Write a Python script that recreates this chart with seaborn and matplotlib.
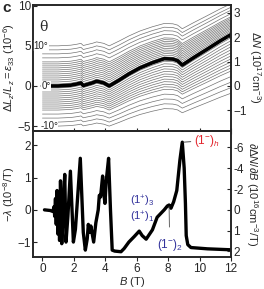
import numpy as np
import pandas as pd
import matplotlib
matplotlib.use('Agg')
import matplotlib.pyplot as plt
import seaborn as sns

# --- data ---
# 0 deg magnetostriction curve (epsilon_33, 1e-6) vs B (T)
b_main = [0.0, 1.0, 1.8, 2.2, 2.45, 2.6, 2.85, 3.2, 3.45, 3.9, 4.25, 4.9, 5.5,
          6.2, 7.0, 7.75, 8.3, 8.6, 8.9, 9.6, 10.5, 11.3, 12.0]
eps_main = [0.0, 0.0, 0.1, 0.25, 0.38, 0.05, 0.2, 0.4, 0.6, 0.38, 0.0, 0.75, 1.5,
            2.25, 2.9, 3.4, 3.35, 3.15, 2.6, 3.5, 4.6, 5.6, 6.4]

# tilt angles of the fan (offset 0.5 per degree) and response relative to 0 deg
angles = [-10, -9, -8, -7, -6, -5.5, -5, -4.5, -4, -3.5, -3, -2.5, -2, -1.5, -1, -0.5,
          0, 0.5, 1, 1.5, 2, 2.5, 3, 3.5, 4, 4.5, 5, 5.5, 6, 7, 8, 9, 10]
response = [0.64, 0.67, 0.7, 0.73, 0.76, 0.78, 0.8, 0.82, 0.84, 0.86, 0.88, 0.9, 0.92,
            0.94, 0.96, 0.98, 1.0, 0.99, 0.98, 0.97, 0.96, 0.95, 0.94, 0.93, 0.92,
            0.91, 0.9, 0.89, 0.88, 0.86, 0.85, 0.83, 0.82]

# -lambda (1e-8 /T) vs B (T)
b_lam = [0.13, 0.5, 0.66, 0.74, 0.78, 0.83, 0.88, 0.93, 0.98, 1.04, 1.09, 1.15, 1.23,
         1.33, 1.42, 1.5, 1.62, 1.78, 1.97, 2.1, 2.41, 2.6, 2.73, 2.85, 2.92, 3.0,
         3.08, 3.26, 3.4, 3.55, 3.62, 3.7, 3.83, 3.92, 3.98, 4.06, 4.21, 4.33, 4.44,
         4.6, 5.0, 5.2, 5.5, 5.84, 6.16, 6.35, 6.6, 7.0, 7.3, 7.75, 7.95, 8.06, 8.18,
         8.35, 8.55, 8.75, 8.9, 9.02, 9.1, 9.15, 9.25, 9.45, 10.5, 12.0]
lam = [0.0, -0.02, -0.05, 0.1, -0.2, 0.35, -0.45, 0.6, -0.75, 0.55, -0.95, 0.9, -1.05,
       0.2, 1.1, -1.0, -0.2, 1.2, -1.0, -0.6, 1.6, -0.7, -1.25, -0.9, -0.45, -0.7,
       -0.5, -1.0, -0.4, 0.0, 0.45, 0.4, 1.05, 0.45, 0.2, 0.9, 1.6, 0.0, -1.25,
       -1.28, -1.3, -1.2, -1.0, -0.83, -0.66, -0.8, -0.91, -0.62, -0.23, 0.0, 0.12, 0.15, 0.05,
       0.25, 0.6, 1.55, 2.1, 1.3, 0.2, -0.8, -1.08, -1.17, -1.21, -1.24]

sns.set_style('ticks')
plt.rcParams['font.family'] = ['Liberation Sans', 'DejaVu Sans']
plt.rcParams['mathtext.fontset'] = 'custom'
plt.rcParams['mathtext.rm'] = 'Liberation Sans'
plt.rcParams['mathtext.it'] = 'Liberation Sans:italic'
plt.rcParams['axes.linewidth'] = 1.2

fs = 8.5
lfs = 8
fig = plt.figure(figsize=(2.64, 2.89), dpi=100)
ax1 = fig.add_axes([0.125, 0.547, 0.75, 0.436])
ax2 = fig.add_axes([0.125, 0.11, 0.75, 0.437])

# fan of thin lines
rows = []
for th, k in zip(angles, response):
    for b, e in zip(b_main, eps_main):
        rows.append({'B': b, 'eps': 0.5 * th + k * e, 'theta': th})
fan = pd.DataFrame(rows)
sns.lineplot(data=fan, x='B', y='eps', units='theta', estimator=None,
             color='0.45', lw=0.5, ax=ax1)
sns.lineplot(x=b_main, y=eps_main, color='k', lw=2.6, ax=ax1)

ax1.set_xlim(-0.6, 12)
ax1.set_ylim(-5.6, 10.1)
ax1.set_yticks([-5, 0, 5, 10])
ax1.set_xticks(range(0, 13, 2))
ax1.tick_params(axis='x', direction='inout', length=5, labelbottom=False)
ax1.tick_params(axis='y', direction='in', length=3, labelsize=fs, pad=1.5)
ax1.set_xlabel('')
ax1.set_ylabel(r'$\Delta L_z/L_z = \epsilon_{33}\ (10^{-6})$', fontsize=lfs, labelpad=0)

bb = dict(facecolor='white', edgecolor='none', pad=0.3)
ax1.text(-0.55, 5.0, '10°', fontsize=7, va='center', ha='left', bbox=bb)
ax1.text(-0.05, 0.0, '0°', fontsize=7, va='center', ha='left', bbox=bb)
ax1.text(-0.15, -5.0, '-10°', fontsize=7, va='center', ha='left', bbox=bb)
ax1.text(-0.2, 7.3, 'θ', fontsize=10, va='center', ha='left', family='DejaVu Serif')

ax1r = ax1.twinx()
ax1r.set_ylim(-5.6 / 3.04, 10.1 / 3.04)
ax1r.set_yticks([-1, 0, 1, 2, 3])
ax1r.tick_params(axis='y', direction='in', length=3, labelsize=fs, pad=1.5)
ax1r.set_ylabel(r'$\Delta N\ (10^{17}\mathrm{cm}^{-3})$', fontsize=lfs, rotation=270,
                va='bottom', labelpad=0)

# bottom panel
sns.lineplot(x=b_lam, y=lam, color='k', lw=2.4, ax=ax2, sort=False)
ax2.set_xlim(-0.6, 12)
ax2.set_ylim(-1.47, 2.45)
ax2.set_yticks([-1, 0, 1, 2])
ax2.set_xticks(range(0, 13, 2))
ax2.tick_params(axis='x', direction='out', length=3, labelsize=fs, pad=1)
ax2.tick_params(axis='y', direction='in', length=3, labelsize=fs, pad=1.5)
ax2.set_xlabel('$B$ (T)', fontsize=lfs, labelpad=0)
ax2.set_ylabel(r'$-\lambda\ (10^{-8}/\mathrm{T})$', fontsize=lfs, labelpad=0)

ax2r = ax2.twinx()
ax2r.set_ylim(-1.47 * -3.1, 2.45 * -3.1)
ax2r.set_yticks([-6, -4, -2, 0, 2, 4])
ax2r.set_yticklabels(['-6', '-4', '-2', '0', '1', '2'])
ax2r.tick_params(axis='y', direction='in', length=3, labelsize=fs, pad=1.5)
ax2r.set_ylabel(r'$\partial\Delta N/\partial B\ (10^{16}\mathrm{cm}^{-3}/\mathrm{T})$',
                fontsize=lfs, rotation=270, va='bottom', labelpad=0)

red = '#e3262d'
blue = '#33339c'
ax2.annotate(r'$(1^{-})_{h}$', xy=(8.95, 2.1), xytext=(9.65, 2.15), color=red,
             fontsize=fs, va='center', ha='left',
             arrowprops=dict(arrowstyle='-', color='0.2', lw=0.6, shrinkA=0, shrinkB=0))
ax2.text(6.35, 0.27, r'$(1^{+})_{3}$', color=blue, fontsize=8, ha='center', va='center')
ax2.text(6.35, -0.22, r'$(1^{+})_{1}$', color=blue, fontsize=8, ha='center', va='center')
ax2.annotate(r'$(1^{-})_{2}$', xy=(8.06, 0.1), xytext=(8.1, -1.1), color=blue,
             fontsize=fs, va='center', ha='center',
             arrowprops=dict(arrowstyle='-', color='0.3', lw=0.6, shrinkA=5, shrinkB=0))

fig.text(0.01, 0.995, 'c', fontsize=11, weight='bold', va='top', ha='left')

fig.savefig('out.png', dpi=100)
